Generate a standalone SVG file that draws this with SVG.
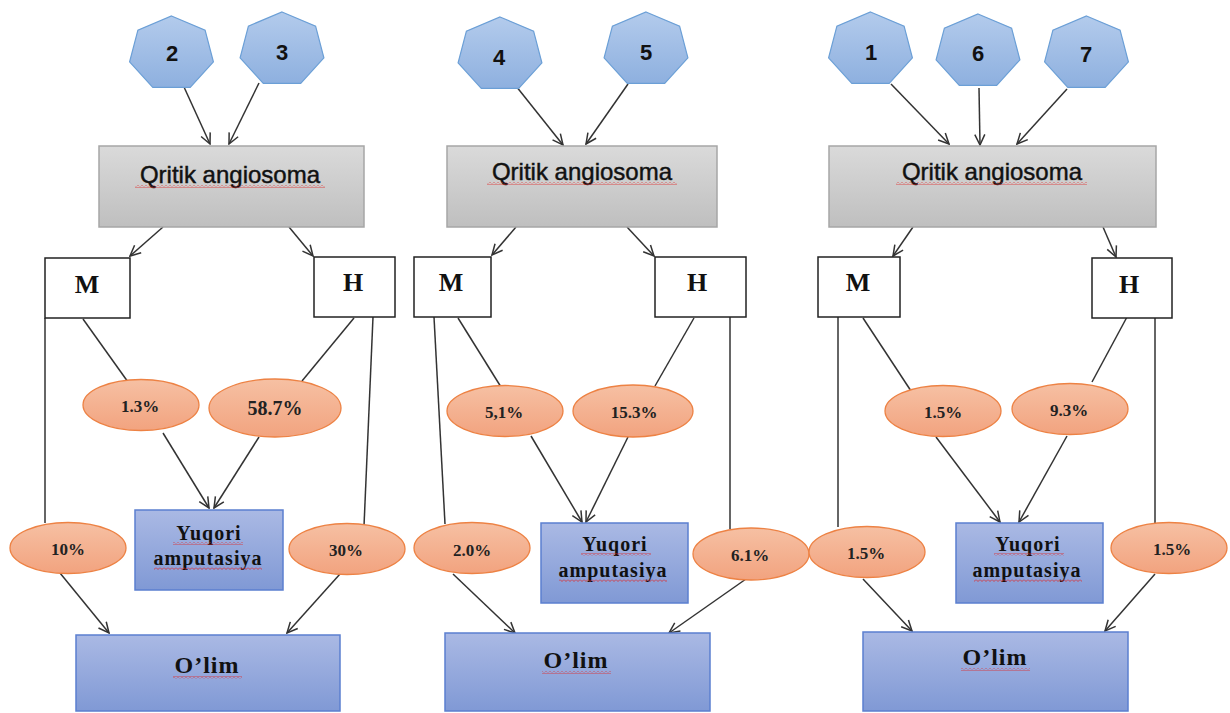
<svg xmlns="http://www.w3.org/2000/svg" width="1230" height="713" viewBox="0 0 1230 713">
<defs>
<linearGradient id="gHept" x1="0" y1="0" x2="0" y2="1"><stop offset="0" stop-color="#b3cbec"/><stop offset="1" stop-color="#8eb0df"/></linearGradient>
<linearGradient id="gGray" x1="0" y1="0" x2="0" y2="1"><stop offset="0" stop-color="#dadada"/><stop offset="1" stop-color="#bfbfbf"/></linearGradient>
<linearGradient id="gBlue" x1="0" y1="0" x2="0" y2="1"><stop offset="0" stop-color="#aab9e4"/><stop offset="1" stop-color="#8099d5"/></linearGradient>
<linearGradient id="gOrange" x1="0" y1="0" x2="0" y2="1"><stop offset="0" stop-color="#f6c0a3"/><stop offset="1" stop-color="#f2a37f"/></linearGradient>
<polygon id="hept" points="0,-37.5 33.6,-23.4 41.9,8.3 18.7,33.8 -18.7,33.8 -41.9,8.3 -33.6,-23.4"/>
<marker id="arr" markerUnits="userSpaceOnUse" markerWidth="13" markerHeight="13" viewBox="0 0 13 13" refX="12" refY="6.5" orient="auto">
<path d="M1.5,1.5 L12,6.5 L1.5,11.5" fill="none" stroke="#333" stroke-width="1.5"/>
</marker>
<pattern id="wave" width="4" height="3" patternUnits="userSpaceOnUse"><path d="M0,0.5 L2,2.5 L4,0.5" stroke="#e02525" stroke-width="0.8" fill="none"/></pattern>
</defs>
<style>
.hept{fill:url(#gHept);stroke:#6b9fd6;stroke-width:1.2}
.gray{fill:url(#gGray);stroke:#a6a6a6;stroke-width:1.5}
.blue{fill:url(#gBlue);stroke:#5b7fcf;stroke-width:1.5}
.wbox{fill:#fff;stroke:#222;stroke-width:1.5}
.ell{fill:url(#gOrange);stroke:#ed8244;stroke-width:1.3}
.num{font-family:"Liberation Sans",Arial,sans-serif;font-weight:bold;font-size:22px;fill:#111;text-anchor:middle}
.qa{font-family:"Liberation Sans",Arial,sans-serif;font-size:24px;fill:#111;stroke:#111;stroke-width:0.45;text-anchor:middle}
.mh{font-family:"Liberation Serif","Times New Roman",serif;font-weight:bold;font-size:26px;fill:#111;text-anchor:middle}
.pct{font-family:"Liberation Serif","Times New Roman",serif;font-weight:bold;font-size:17px;fill:#222;text-anchor:middle}
.yq{font-family:"Liberation Serif","Times New Roman",serif;font-weight:bold;font-size:20px;letter-spacing:1px;fill:#111;text-anchor:middle}
.ol{font-family:"Liberation Serif","Times New Roman",serif;font-weight:bold;font-size:24px;letter-spacing:1px;fill:#111;text-anchor:middle}
.wv{fill:url(#wave)}
.c{stroke:#333;stroke-width:1.5;fill:none}
.a{marker-end:url(#arr)}
</style>
<rect width="1230" height="713" fill="#fff"/>

<g id="connectors">
<line class="c a" x1="184" y1="87" x2="210" y2="144"/>
<line class="c a" x1="259" y1="83" x2="229" y2="144"/>
<line class="c a" x1="163" y1="227" x2="130" y2="256"/>
<line class="c a" x1="289" y1="227" x2="313" y2="256"/>
<line class="c" x1="45" y1="318" x2="45" y2="523"/>
<line class="c" x1="83" y1="319" x2="128" y2="382"/>
<line class="c" x1="354" y1="318" x2="302" y2="381"/>
<line class="c" x1="373" y1="317" x2="364" y2="526"/>
<line class="c a" x1="163" y1="433" x2="209" y2="508"/>
<line class="c a" x1="259" y1="437" x2="214" y2="508"/>
<line class="c a" x1="60" y1="573" x2="109" y2="633"/>
<line class="c a" x1="340" y1="574" x2="287" y2="633"/>

<line class="c a" x1="516" y1="86" x2="563" y2="145"/>
<line class="c a" x1="628" y1="84" x2="586" y2="144"/>
<line class="c a" x1="516" y1="227" x2="492" y2="255"/>
<line class="c a" x1="627" y1="227" x2="654" y2="256"/>
<line class="c" x1="434" y1="317" x2="445" y2="524"/>
<line class="c" x1="458" y1="318" x2="501" y2="387"/>
<line class="c" x1="694" y1="318" x2="655" y2="386"/>
<line class="c" x1="730" y1="317" x2="730" y2="529"/>
<line class="c a" x1="531" y1="436" x2="582" y2="522"/>
<line class="c a" x1="628" y1="437" x2="586" y2="522"/>
<line class="c a" x1="453" y1="574" x2="515" y2="633"/>
<line class="c a" x1="746" y1="579" x2="669" y2="633"/>

<line class="c a" x1="891" y1="84" x2="949" y2="144"/>
<line class="c a" x1="979" y1="88" x2="980" y2="145"/>
<line class="c a" x1="1067" y1="89" x2="1017" y2="144"/>
<line class="c a" x1="913" y1="227" x2="893" y2="256"/>
<line class="c a" x1="1103" y1="227" x2="1116" y2="257"/>
<line class="c" x1="838" y1="317" x2="838" y2="527"/>
<line class="c" x1="863" y1="318" x2="913" y2="394"/>
<line class="c" x1="1127" y1="317" x2="1092" y2="382"/>
<line class="c" x1="1155" y1="318" x2="1155" y2="523"/>
<line class="c a" x1="936" y1="437" x2="1000" y2="522"/>
<line class="c a" x1="1067" y1="436" x2="1019" y2="522"/>
<line class="c a" x1="863" y1="579" x2="912" y2="631"/>
<line class="c a" x1="1155" y1="574" x2="1105" y2="631"/>
</g>

<!-- Panel 1 -->
<g id="h2"><use href="#hept" class="hept" transform="translate(171.5,53.5)"/><text class="num" x="172" y="61">2</text></g>
<g id="h3"><use href="#hept" class="hept" transform="translate(282,49.5)"/><text class="num" x="282" y="60">3</text></g>
<g id="qa1"><rect class="gray" x="99" y="146" width="265" height="81"/><text class="qa" x="230" y="183">Qritik angiosoma</text><rect class="wv" x="135" y="185" width="190" height="3"/></g>
<g id="m1"><rect class="wbox" x="45" y="258" width="85" height="60"/><text class="mh" x="87" y="293">M</text></g>
<g id="hh1"><rect class="wbox" x="314" y="257" width="81" height="60"/><text class="mh" x="353" y="291">H</text></g>
<g id="e1_13"><ellipse class="ell" cx="141" cy="405" rx="58" ry="25.5"/><text class="pct" x="140" y="412">1.3%</text></g>
<g id="e1_587"><ellipse class="ell" cx="275" cy="408" rx="66" ry="29"/><text class="pct" x="275" y="415" style="font-size:20px">58.7%</text></g>
<g id="e1_10"><ellipse class="ell" cx="68" cy="548" rx="58" ry="25.5"/><text class="pct" x="68" y="555">10%</text></g>
<g id="e1_30"><ellipse class="ell" cx="347" cy="549" rx="58" ry="25.5"/><text class="pct" x="346" y="556">30%</text></g>
<g id="y1"><rect class="blue" x="135" y="510" width="148" height="80"/><text class="yq" x="209" y="540">Yuqori</text><text class="yq" x="208" y="565">amputasiya</text><rect class="wv" x="173" y="542" width="70" height="3"/><rect class="wv" x="154" y="567" width="108" height="3"/></g>
<g id="o1"><rect class="blue" x="76" y="635" width="264" height="76"/><text class="ol" x="207" y="673">O’lim</text><rect class="wv" x="173" y="676" width="69" height="3"/></g>

<!-- Panel 2 -->
<g id="h4"><use href="#hept" class="hept" transform="translate(500,54.5)"/><text class="num" x="499" y="65">4</text></g>
<g id="h5"><use href="#hept" class="hept" transform="translate(646,49.5)"/><text class="num" x="646" y="60">5</text></g>
<g id="qa2"><rect class="gray" x="447" y="146" width="270" height="81"/><text class="qa" x="582" y="180">Qritik angiosoma</text><rect class="wv" x="487" y="182" width="190" height="3"/></g>
<g id="m2"><rect class="wbox" x="414" y="257" width="77" height="60"/><text class="mh" x="451" y="291">M</text></g>
<g id="hh2"><rect class="wbox" x="655" y="257" width="91" height="60"/><text class="mh" x="697" y="291">H</text></g>
<g id="e2_51"><ellipse class="ell" cx="505" cy="411" rx="58" ry="25.5"/><text class="pct" x="504" y="418">5,1%</text></g>
<g id="e2_153"><ellipse class="ell" cx="633" cy="411" rx="60" ry="26"/><text class="pct" x="634" y="418">15.3%</text></g>
<g id="e2_20"><ellipse class="ell" cx="472" cy="548" rx="58" ry="25.5"/><text class="pct" x="472" y="556">2.0%</text></g>
<g id="e2_61"><ellipse class="ell" cx="751" cy="554" rx="58" ry="26"/><text class="pct" x="750" y="561">6.1%</text></g>
<g id="y2"><rect class="blue" x="541" y="523" width="147" height="80"/><text class="yq" x="615" y="551">Yuqori</text><text class="yq" x="613" y="577">amputasiya</text><rect class="wv" x="581" y="553" width="70" height="3"/><rect class="wv" x="559" y="579" width="108" height="3"/></g>
<g id="o2"><rect class="blue" x="445" y="633" width="265" height="78"/><text class="ol" x="576" y="668">O’lim</text><rect class="wv" x="542" y="671" width="69" height="3"/></g>

<!-- Panel 3 -->
<g id="h1"><use href="#hept" class="hept" transform="translate(870.5,49.5)"/><text class="num" x="871" y="60">1</text></g>
<g id="h6"><use href="#hept" class="hept" transform="translate(978,51.5)"/><text class="num" x="978" y="61">6</text></g>
<g id="h7"><use href="#hept" class="hept" transform="translate(1086.5,53.5)"/><text class="num" x="1086" y="62">7</text></g>
<g id="qa3"><rect class="gray" x="829" y="146" width="327" height="81"/><text class="qa" x="992" y="180">Qritik angiosoma</text><rect class="wv" x="896" y="182" width="191" height="3"/></g>
<g id="m3"><rect class="wbox" x="818" y="257" width="82" height="60"/><text class="mh" x="858" y="291">M</text></g>
<g id="hh3"><rect class="wbox" x="1092" y="258" width="80" height="60"/><text class="mh" x="1129" y="293">H</text></g>
<g id="e3_15a"><ellipse class="ell" cx="943" cy="411" rx="58" ry="25.5"/><text class="pct" x="943" y="418">1.5%</text></g>
<g id="e3_93"><ellipse class="ell" cx="1070" cy="409" rx="58" ry="25.5"/><text class="pct" x="1069" y="416">9.3%</text></g>
<g id="e3_15b"><ellipse class="ell" cx="867" cy="552" rx="58" ry="25.5"/><text class="pct" x="866" y="559">1.5%</text></g>
<g id="e3_15c"><ellipse class="ell" cx="1169" cy="548" rx="58" ry="25.5"/><text class="pct" x="1172" y="555">1.5%</text></g>
<g id="y3"><rect class="blue" x="956" y="523" width="147" height="80"/><text class="yq" x="1028" y="551">Yuqori</text><text class="yq" x="1027" y="577">amputasiya</text><rect class="wv" x="994" y="553" width="70" height="3"/><rect class="wv" x="974" y="579" width="108" height="3"/></g>
<g id="o3"><rect class="blue" x="863" y="632" width="265" height="79"/><text class="ol" x="995" y="665">O’lim</text><rect class="wv" x="961" y="668" width="69" height="3"/></g>
</svg>
